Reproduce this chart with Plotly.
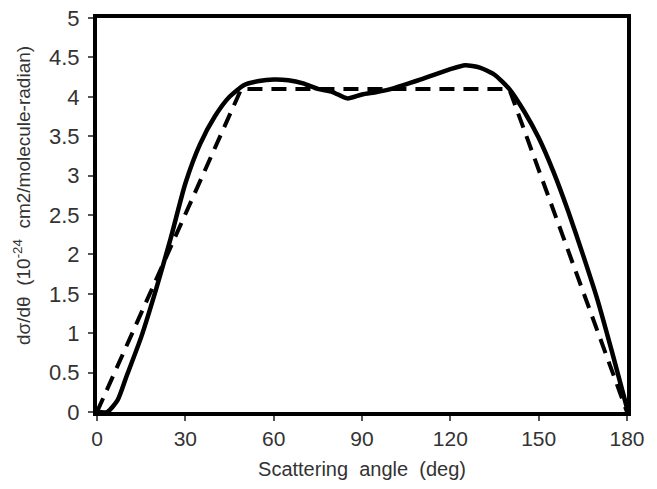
import plotly.graph_objects as go

# measured curve (solid)
angle_meas = [0, 3.5, 7, 10, 15, 20, 25, 30, 35, 40, 45, 50, 55, 60, 65, 70, 75, 80, 85,
              90, 95, 100, 110, 120, 125, 130, 135, 140, 145, 150, 155, 160, 165, 170, 175, 180]
dsig_meas = [0, 0, 0.15, 0.45, 0.95, 1.55, 2.2, 2.9, 3.4, 3.75, 4.0, 4.15, 4.2, 4.22, 4.21, 4.17, 4.1, 4.06, 3.98,
             4.03, 4.06, 4.1, 4.22, 4.35, 4.4, 4.37, 4.28, 4.1, 3.82, 3.48, 3.05, 2.55, 2.0, 1.42, 0.75, 0.05]

# trapezoid model (dashed)
angle_model = [0, 49, 140, 180]
dsig_model = [0, 4.1, 4.1, 0]

x_ticks = [0, 30, 60, 90, 120, 150, 180]
y_ticks = [0, 0.5, 1, 1.5, 2, 2.5, 3, 3.5, 4, 4.5, 5]

fig = go.Figure()
fig.add_trace(go.Scatter(x=angle_model, y=dsig_model, mode="lines",
                         line=dict(color="black", width=4, dash="15px,9px")))
fig.add_trace(go.Scatter(x=angle_meas, y=dsig_meas, mode="lines",
                         line=dict(color="black", width=4.5, shape="spline", smoothing=0.6)))

font = "Liberation Sans, Arial, sans-serif"
fig.update_layout(
    width=657, height=489,
    margin=dict(l=97, r=30, t=18, b=77, autoexpand=False),
    paper_bgcolor="white", plot_bgcolor="white",
    showlegend=False,
    font=dict(family=font, color="#333333", size=20),
)
fig.update_xaxes(
    range=[0, 180], tickvals=x_ticks, ticks="outside", ticklen=5, tickwidth=1.5, tickcolor="#555",
    showline=True, linewidth=4, linecolor="black", mirror=True, showgrid=False, zeroline=False,
    automargin=False, tickfont=dict(size=21),
    title=dict(text="Scattering  angle  (deg)", font=dict(size=20), standoff=14),
)
fig.update_yaxes(
    range=[0, 5], tickvals=y_ticks, ticks="outside", ticklen=5, tickwidth=1.5, tickcolor="#555",
    showline=True, linewidth=4, linecolor="black", mirror=True, showgrid=False, zeroline=False,
    automargin=False, tickfont=dict(size=22), ticklabelstandoff=4,
)
fig.add_annotation(
    text="d\u03c3/d\u03b8  (10<sup>-24</sup>  cm2/molecule-radian)",
    xref="paper", yref="paper", x=-0.14, y=0.55, textangle=-90,
    showarrow=False, xanchor="center", yanchor="middle",
    font=dict(size=19, color="#333333"),
)

# drop the browser's default body margin so the figure sits at the page origin
fig.write_html("out.html", config={"displayModeBar": False},
               post_script="document.body.style.margin='0';")
